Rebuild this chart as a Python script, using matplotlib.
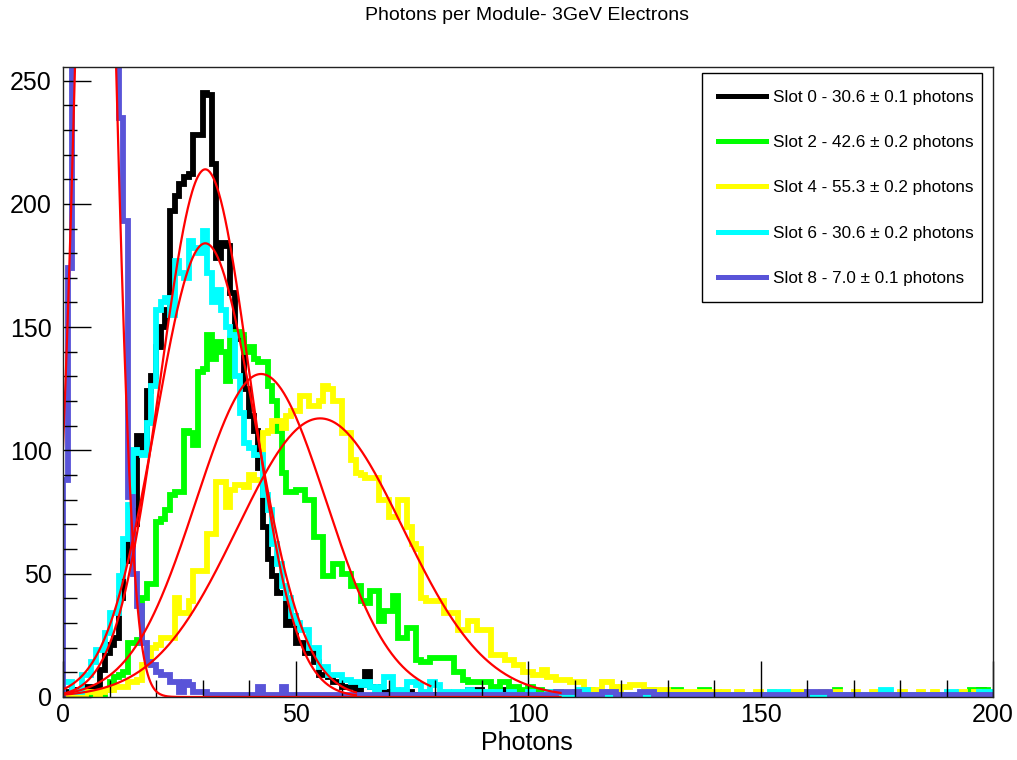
import numpy as np
import matplotlib
matplotlib.use("Agg")
import matplotlib.pyplot as plt
from matplotlib.lines import Line2D

plt.rcParams['font.family'] = ['Liberation Sans', 'DejaVu Sans']

# histogram bin edges: 200 bins of 1 photon, 0..200
bin_edges = np.arange(0, 201, 1)

# counts per bin (bins 0..199)
slot0 = [2, 1, 3, 2, 3, 4, 4, 4, 11, 18, 21, 24, 40, 55, 62, 70, 106, 100, 124, 130,
         142, 150, 157, 197, 203, 208, 211, 212, 228, 228, 245, 244, 216, 178, 184, 183, 164, 146, 145, 125,
         114, 108, 93, 69, 56, 49, 42, 42, 29, 33, 22, 22, 18, 18, 14, 9, 9, 8, 6, 6,
         4, 4, 4, 3, 5, 10, 4, 4, 1, 2, 1, 1, 2, 1, 2, 1, 0, 1, 0, 0,
         1, 0, 1, 0, 0, 0, 1, 3, 3, 3, 1, 0, 0, 0, 3, 3, 0, 0, 1, 0,
         0, 1, 0, 0, 0, 1, 0, 0, 0, 0, 1, 0, 0, 0, 0, 0, 0, 1, 0, 0,
         0, 0, 0, 0, 0, 0, 1, 0, 0, 0, 0, 0, 0, 0, 0, 0, 0, 0, 0, 0,
         0, 0, 0, 0, 0, 0, 0, 0, 0, 0, 0, 0, 0, 0, 0, 0, 0, 0, 0, 0,
         0, 0, 0, 0, 0, 0, 0, 0, 0, 0, 0, 0, 0, 0, 0, 0, 0, 0, 0, 0,
         0, 0, 0, 0, 0, 0, 0, 0, 0, 0, 0, 0, 0, 0, 0, 0, 0, 3, 0, 0]

slot2 = [0, 0, 1, 0, 1, 1, 1, 2, 1, 3, 6, 8, 9, 10, 22, 22, 23, 40, 46, 46,
         71, 72, 76, 82, 83, 83, 108, 107, 102, 132, 133, 147, 137, 144, 140, 128, 145, 148, 147, 140,
         142, 137, 136, 136, 126, 120, 108, 91, 83, 83, 84, 84, 80, 80, 65, 65, 49, 49, 54, 54,
         50, 50, 45, 45, 39, 38, 43, 43, 31, 35, 35, 41, 24, 24, 28, 28, 15, 14, 14, 16,
         16, 16, 16, 16, 10, 10, 7, 6, 6, 6, 6, 6, 4, 4, 6, 6, 4, 4, 3, 2,
         4, 2, 3, 2, 2, 1, 2, 1, 1, 1, 2, 1, 1, 3, 1, 1, 1, 1, 1, 1,
         1, 1, 0, 1, 1, 1, 3, 1, 0, 1, 1, 3, 3, 1, 0, 1, 1, 3, 3, 1,
         0, 1, 0, 1, 1, 0, 1, 0, 1, 1, 0, 0, 1, 0, 1, 0, 1, 0, 0, 1,
         0, 1, 0, 1, 0, 0, 3, 1, 0, 1, 0, 0, 1, 0, 1, 0, 0, 1, 0, 0,
         1, 0, 1, 0, 0, 1, 0, 0, 0, 1, 0, 1, 0, 0, 1, 3, 3, 3, 3, 0]

slot4 = [0, 1, 1, 0, 1, 2, 2, 1, 2, 3, 3, 4, 4, 4, 6, 6, 7, 13, 13, 20,
         21, 24, 24, 24, 40, 34, 34, 39, 51, 51, 51, 66, 66, 87, 87, 77, 84, 86, 86, 85,
         90, 88, 88, 107, 108, 112, 112, 109, 114, 116, 116, 122, 122, 118, 118, 120, 126, 125, 120, 120,
         107, 107, 96, 91, 90, 89, 89, 89, 80, 80, 73, 73, 80, 80, 69, 62, 60, 40, 39, 39,
         39, 39, 34, 34, 34, 27, 27, 31, 31, 27, 27, 27, 17, 17, 17, 15, 15, 13, 13, 10,
         10, 9, 9, 11, 8, 8, 7, 7, 7, 6, 6, 6, 3, 3, 2, 3, 6, 6, 4, 3,
         4, 4, 5, 5, 5, 3, 3, 3, 2, 3, 2, 2, 2, 2, 2, 2, 1, 2, 2, 2,
         2, 1, 2, 1, 1, 2, 1, 1, 1, 2, 1, 1, 2, 1, 1, 1, 1, 2, 1, 2,
         1, 1, 1, 2, 1, 1, 2, 1, 1, 1, 2, 1, 1, 1, 2, 1, 1, 2, 1, 1,
         2, 1, 1, 1, 2, 1, 1, 2, 1, 1, 1, 1, 1, 2, 1, 1, 2, 1, 1, 1]

slot6 = [6, 6, 2, 2, 9, 9, 14, 19, 19, 26, 34, 34, 49, 64, 78, 100, 99, 98, 111, 126,
         157, 160, 162, 155, 177, 172, 170, 185, 182, 180, 189, 172, 160, 165, 157, 150, 147, 130, 115, 103,
         101, 98, 98, 82, 76, 62, 54, 45, 40, 33, 30, 27, 27, 20, 20, 12, 12, 9, 9, 9,
         7, 7, 6, 6, 5, 6, 4, 3, 4, 8, 8, 3, 2, 3, 6, 6, 5, 2, 2, 6,
         5, 2, 2, 1, 2, 1, 2, 3, 2, 2, 1, 2, 1, 2, 1, 1, 2, 1, 1, 1,
         2, 1, 1, 1, 2, 1, 1, 1, 1, 1, 2, 3, 3, 1, 1, 1, 1, 2, 1, 1,
         1, 1, 1, 1, 1, 1, 2, 1, 1, 1, 1, 1, 1, 1, 1, 1, 1, 1, 1, 1,
         1, 1, 1, 1, 1, 1, 1, 1, 1, 1, 1, 1, 2, 2, 2, 2, 1, 1, 1, 1,
         1, 1, 1, 1, 1, 1, 1, 1, 1, 1, 1, 1, 1, 1, 1, 1, 3, 3, 1, 1,
         1, 1, 1, 1, 1, 1, 1, 1, 1, 1, 2, 2, 1, 1, 1, 1, 1, 2, 2, 2]

slot8 = [88, 174, 290, 380, 440, 470, 480, 470, 450, 410, 350, 300, 235, 193, 81, 50, 37, 22, 14, 13,
         10, 9, 9, 6, 6, 2, 6, 5, 2, 2, 2, 1, 1, 1, 1, 1, 1, 1, 1, 1,
         1, 1, 4, 1, 1, 1, 1, 4, 1, 1, 1, 1, 1, 1, 1, 1, 1, 1, 1, 1,
         1, 1, 1, 1, 1, 1, 1, 1, 1, 1, 1, 1, 1, 1, 1, 1, 1, 1, 1, 1,
         1, 1, 1, 1, 1, 1, 1, 1, 1, 1, 1, 1, 1, 1, 1, 1, 1, 1, 1, 1,
         1, 1, 1, 1, 1, 1, 2, 2, 2, 2, 2, 1, 1, 1, 1, 1, 2, 2, 2, 1,
         1, 1, 1, 1, 2, 2, 2, 1, 1, 1, 1, 1, 1, 1, 1, 1, 1, 1, 1, 1,
         1, 1, 1, 1, 1, 1, 1, 1, 1, 1, 1, 1, 1, 1, 1, 1, 1, 1, 1, 1,
         2, 2, 2, 2, 2, 1, 1, 1, 1, 1, 1, 1, 1, 1, 1, 1, 1, 1, 1, 1,
         1, 1, 1, 1, 1, 1, 1, 1, 1, 1, 1, 1, 1, 1, 1, 1, 1, 1, 1, 1]

hists = [slot0, slot2, slot4, slot6, slot8]
colors = ['#000000', '#00ff00', '#ffff00', '#00ffff', '#5954d8']
labels = ['Slot 0 - 30.6 \u00b1 0.1 photons',
          'Slot 2 - 42.6 \u00b1 0.2 photons',
          'Slot 4 - 55.3 \u00b1 0.2 photons',
          'Slot 6 - 30.6 \u00b1 0.2 photons',
          'Slot 8 - 7.0 \u00b1 0.1 photons']

# gaussian fit results (amplitude, mean, sigma, fit range end)
fit_amp = [214, 131, 113, 184, 470]
fit_mean = [30.6, 42.6, 55.3, 30.6, 7.0]
fit_sigma = [9.6, 14.0, 17.8, 10.7, 4.0]
fit_end = [63, 79, 107, 63, 107]

W, H = 1017, 760
fig = plt.figure(figsize=(W / 100, H / 100), dpi=100)
ax = fig.add_axes([63 / W, 63 / H, 930 / W, 630 / H])

for vals, c in zip(hists, colors):
    ax.stairs(vals, bin_edges, color=c, lw=4.2, baseline=0)

for a, m, s, e in zip(fit_amp, fit_mean, fit_sigma, fit_end):
    xf = np.linspace(0, e, 400)
    ax.plot(xf, a * np.exp(-0.5 * ((xf - m) / s) ** 2), color='#ff0000', lw=1.6)

ax.set_xlim(0, 200)
ax.set_ylim(0, 255.5)

ax.set_xticks([0, 50, 100, 150, 200])
ax.set_xticks(np.arange(0, 201, 10), minor=True)
ax.set_yticks([0, 50, 100, 150, 200, 250])
ax.set_yticks(np.arange(0, 256, 10), minor=True)
ax.tick_params(axis='x', which='major', direction='in', length=26, width=1, labelsize=18, pad=4)
ax.tick_params(axis='x', which='minor', direction='in', length=12, width=1)
ax.tick_params(axis='y', which='major', direction='in', length=20, width=1, labelsize=18, pad=8)
ax.tick_params(axis='y', which='minor', direction='in', length=10, width=1)
for sp in ax.spines.values():
    sp.set_linewidth(1)
    sp.set_color('#222222')

fig.text(527 / W, 1 - 15 / H, 'Photons per Module- 3GeV Electrons',
         ha='center', va='center', fontsize=14)
fig.text(527 / W, 1 - 743 / H, 'Photons', ha='center', va='center', fontsize=18)

handles = [Line2D([], [], color=c, lw=3.6) for c in colors]
leg = ax.legend(handles, labels, loc='upper left', mode='expand',
                bbox_to_anchor=(0.687, 0.641, 0.301, 0.349),
                fontsize=12.3, handlelength=2.8, handletextpad=0.4, labelspacing=1.78,
                borderpad=0.95, borderaxespad=0, fancybox=False, edgecolor='black',
                framealpha=1)
leg.get_frame().set_linewidth(1)

fig.savefig('out.png', dpi=100)
